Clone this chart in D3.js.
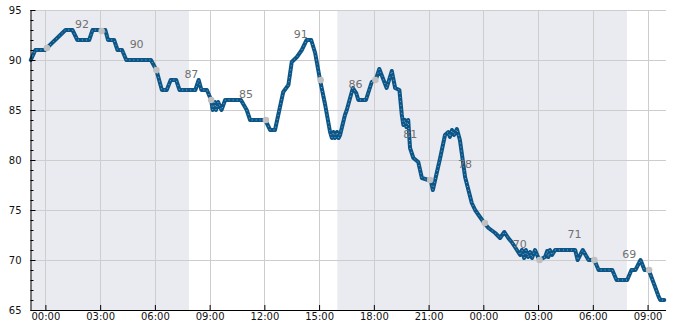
<!DOCTYPE html>
<html><head><meta charset="utf-8">
<script src="https://cdn.jsdelivr.net/npm/d3@7"></script>
<style>
html,body{margin:0;padding:0;background:#fff;}
svg{display:block;font-family:"DejaVu Sans",sans-serif;}
</style></head>
<body>
<svg id="chart" width="685" height="330"></svg>
<script>
// ---- data ----
const times = ["1 23:12","1 23:27","1 23:58","2 01:06","2 01:29","2 01:45","2 02:24","2 02:35","2 03:17","2 03:26","2 03:46","2 03:57","2 04:12","2 04:26","2 05:47","2 06:05","2 06:23","2 06:39","2 06:52","2 07:10","2 07:21","2 08:13","2 08:24","2 08:33","2 08:51","2 09:05","2 09:10","2 09:17","2 09:21","2 09:28","2 09:39","2 09:51","2 10:43","2 11:02","2 11:13","2 12:03","2 12:19","2 12:35","2 13:02","2 13:19","2 13:30","2 13:47","2 14:03","2 14:19","2 14:34","2 14:47","2 15:03","2 15:20","2 15:36","2 15:42","2 15:47","2 15:52","2 15:59","2 16:04","2 16:09","2 16:25","2 16:31","2 16:51","2 17:02","2 17:09","2 17:34","2 17:53","2 18:06","2 18:18","2 18:42","2 18:59","2 19:10","2 19:24","2 19:32","2 19:37","2 19:42","2 19:47","2 19:53","2 19:59","2 20:10","2 20:26","2 20:38","2 20:59","2 21:07","2 21:14","2 21:38","2 21:54","2 22:05","2 22:10","2 22:17","2 22:24","2 22:33","2 22:43","2 22:49","2 23:00","2 23:11","2 23:22","2 23:33","2 23:49","3 00:03","3 00:17","3 00:39","3 00:55","3 01:09","3 01:22","3 01:33","3 01:44","3 02:01","3 02:07","3 02:14","3 02:20","3 02:27","3 02:34","3 02:40","3 02:50","3 03:04","3 03:23","3 03:30","3 03:34","3 03:39","3 03:46","3 03:56","3 05:02","3 05:10","3 05:27","3 05:46","3 06:05","3 06:19","3 07:04","3 07:18","3 07:53","3 08:07","3 08:20","3 08:37","3 08:50","3 09:04","3 09:20","3 09:37","3 09:42","3 09:55"];
const values = [90,91,91,93,93,92,92,93,93,92,92,91,91,90,90,89,87,87,88,88,87,87,88,87,87,86,85,85.8,85,85.8,85,86,86,85,84,84,83,83,86.8,87.5,89.8,90.3,91,92,92,90.7,88,85.5,82.8,82.2,82.8,82.2,82.8,82.2,82.5,84.5,85,87.2,86.7,86,86,87.8,88,89.1,87.2,88.9,87.2,87,84.5,83.5,84,83.3,84,81.2,80.2,79.8,78.2,78,78,77,80.2,82.5,82.8,82.3,83,82.5,83.1,82,80.7,78.3,77,75.7,75,74.3,73.7,73.2,72.7,72.2,72.8,72.2,71.8,71.3,70.5,71,70.2,71,70.3,70.8,70.2,71,70,70.3,70.9,70.3,71,70.5,71,71,70,71,70,70,69,69,68,68,69,69,70,69,69,67.7,66.3,66,66];

const markerTimes = ["2 00:05","2 03:05","2 06:05","2 09:05","2 12:05","2 15:05","2 18:05","2 21:05","3 00:05","3 03:05","3 06:05","3 09:05"];
const markerValues = [91.2,92.9,89,86,84,88,88,78,73.7,70,70,69];

const labelTimes = ["2 02:00","2 05:00","2 08:00","2 11:00","2 14:00","2 17:00","2 20:00","2 23:00","3 02:00","3 05:00","3 08:00"];
const labelValues = [92,90,87,85,91,86,81,78,70,71,69];

const bandStarts = ["1 23:11","2 16:00"];
const bandEnds = ["2 07:52","3 07:52"];

const xDomain = ["1 23:11","3 09:59"];
const yDomain = [65,95];
const yTicks = [65,70,75,80,85,90,95];

// ---- chart ----
const parse = d3.utcParse("%d %H:%M");
const svg = d3.select("#chart");
const L = 30.5, R = 665.5, T = 10, B = 310;

const x = d3.scaleUtc().domain(xDomain.map(parse)).range([L, R]);
const y = d3.scaleLinear().domain(yDomain).range([B, T]);
const xTicks = x.ticks(d3.utcHour.every(3));

// bands
svg.append("g").selectAll("rect").data(bandStarts).join("rect")
  .attr("x", (d) => x(parse(d)))
  .attr("y", T)
  .attr("width", (d, i) => x(parse(bandEnds[i])) - x(parse(d)))
  .attr("height", B - T)
  .attr("fill", "#eaebf1");

// grid
const grid = svg.append("g").attr("stroke", "#cdcdcd").attr("stroke-width", 1).attr("shape-rendering", "crispEdges");
grid.selectAll("line.h").data(yTicks).join("line").attr("class", "h")
  .attr("x1", L).attr("x2", R).attr("y1", d => Math.round(y(d)) + 0.5).attr("y2", d => Math.round(y(d)) + 0.5);
grid.selectAll("line.v").data(xTicks).join("line").attr("class", "v")
  .attr("y1", T).attr("y2", B).attr("x1", d => Math.round(x(d)) + 0.5).attr("x2", d => Math.round(x(d)) + 0.5);

// line
const pts = times.map((t, i) => [parse(t), values[i]]);
const line = d3.line().x(d => x(d[0])).y(d => y(d[1]));
svg.append("path").datum(pts).attr("d", line)
  .attr("fill", "none").attr("stroke", "#0b5587").attr("stroke-width", 4)
  .attr("stroke-linejoin", "round").attr("stroke-linecap", "round");
svg.append("path").datum(pts).attr("d", line)
  .attr("fill", "none").attr("stroke", "#9fbfd8").attr("stroke-width", 0.8)
  .attr("stroke-dasharray", "1,3");

// markers
svg.append("g").selectAll("circle").data(markerTimes).join("circle")
  .attr("cx", d => x(parse(d)))
  .attr("cy", (d, i) => y(markerValues[i]))
  .attr("r", 3.3)
  .attr("fill", "#c0c0c0");

// labels
svg.append("g").selectAll("text").data(labelTimes).join("text")
  .attr("x", d => x(parse(d)))
  .attr("y", (d, i) => y(labelValues[i]) - 12)
  .attr("text-anchor", "middle")
  .attr("font-size", 11)
  .attr("fill", "#707070")
  .text((d, i) => labelValues[i]);

// axes
const yAxis = d3.axisLeft(y).tickValues(yTicks).tickSizeInner(-5).tickSizeOuter(0).tickPadding(9);
svg.append("g").attr("transform", `translate(${L},0)`).call(yAxis);
const yMinor = d3.axisLeft(y).tickValues(d3.range(65, 96, 1)).tickSizeInner(-3).tickSizeOuter(0).tickFormat("");
svg.append("g").attr("transform", `translate(${L},0)`).call(yMinor).select(".domain").remove();

const xAxis = d3.axisBottom(x).tickValues(xTicks).tickFormat(d3.utcFormat("%H:%M")).tickSizeInner(-5).tickSizeOuter(0).tickPadding(3);
svg.append("g").attr("transform", `translate(0,${B})`).call(xAxis);

svg.selectAll(".tick text").attr("font-size", 10).attr("fill", "#111").attr("font-family", "DejaVu Sans");
svg.selectAll(".domain, .tick line").attr("stroke", "#000");
</script>
</body></html>
